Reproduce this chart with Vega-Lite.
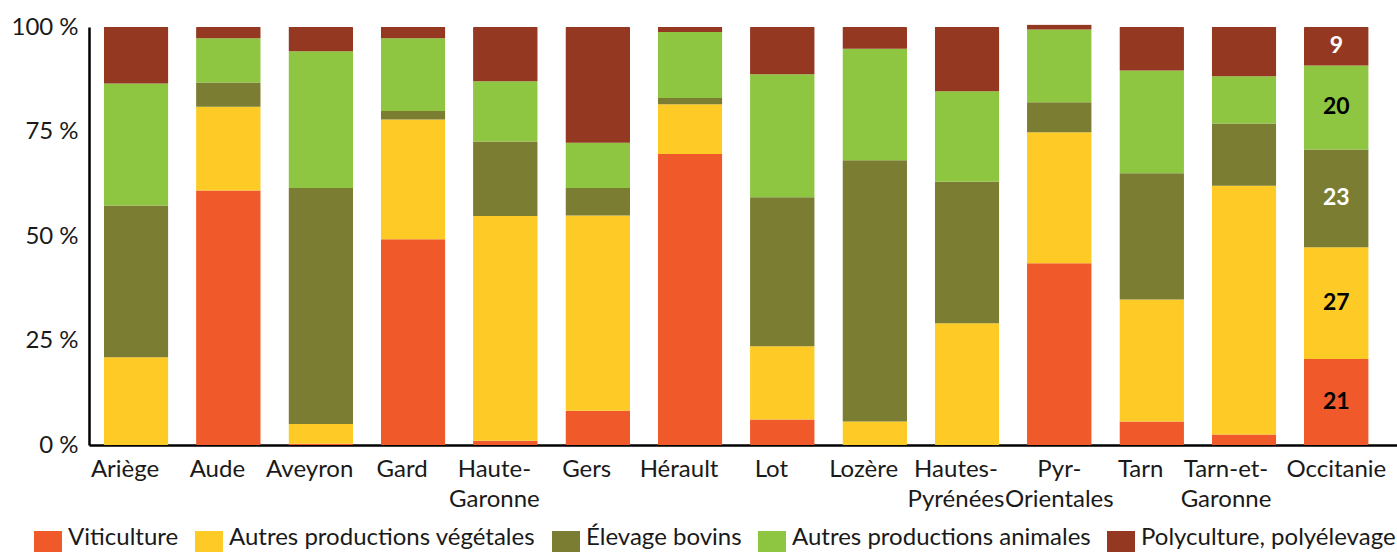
{
  "$schema": "https://vega.github.io/schema/vega-lite/v6.json",
  "width": 1308,
  "height": 418,
  "autosize": {"type": "none"},
  "padding": {"left": 89, "top": 27, "right": 0, "bottom": 107},
  "background": "white",
  "config": {"view": {"stroke": null}, "font": "Lato", "axis": {"grid": false}},
  "data": {"values": [
    {"region": "Ariège", "type": "Viticulture", "k": 1, "value": 0},
    {"region": "Ariège", "type": "Autres productions végétales", "k": 2, "value": 21.0},
    {"region": "Ariège", "type": "Élevage bovins", "k": 3, "value": 36.3},
    {"region": "Ariège", "type": "Autres productions animales", "k": 4, "value": 29.2},
    {"region": "Ariège", "type": "Polyculture, polyélevage", "k": 5, "value": 13.5},
    {"region": "Aude", "type": "Viticulture", "k": 1, "value": 60.9},
    {"region": "Aude", "type": "Autres productions végétales", "k": 2, "value": 20.0},
    {"region": "Aude", "type": "Élevage bovins", "k": 3, "value": 5.8},
    {"region": "Aude", "type": "Autres productions animales", "k": 4, "value": 10.6},
    {"region": "Aude", "type": "Polyculture, polyélevage", "k": 5, "value": 2.7},
    {"region": "Aveyron", "type": "Viticulture", "k": 1, "value": 0.3},
    {"region": "Aveyron", "type": "Autres productions végétales", "k": 2, "value": 4.7},
    {"region": "Aveyron", "type": "Élevage bovins", "k": 3, "value": 56.5},
    {"region": "Aveyron", "type": "Autres productions animales", "k": 4, "value": 32.7},
    {"region": "Aveyron", "type": "Polyculture, polyélevage", "k": 5, "value": 5.8},
    {"region": "Gard", "type": "Viticulture", "k": 1, "value": 49.2},
    {"region": "Gard", "type": "Autres productions végétales", "k": 2, "value": 28.7},
    {"region": "Gard", "type": "Élevage bovins", "k": 3, "value": 2.0},
    {"region": "Gard", "type": "Autres productions animales", "k": 4, "value": 17.4},
    {"region": "Gard", "type": "Polyculture, polyélevage", "k": 5, "value": 2.7},
    {"region": "Haute-Garonne", "type": "Viticulture", "k": 1, "value": 1.0},
    {"region": "Haute-Garonne", "type": "Autres productions végétales", "k": 2, "value": 53.8},
    {"region": "Haute-Garonne", "type": "Élevage bovins", "k": 3, "value": 17.8},
    {"region": "Haute-Garonne", "type": "Autres productions animales", "k": 4, "value": 14.4},
    {"region": "Haute-Garonne", "type": "Polyculture, polyélevage", "k": 5, "value": 13.0},
    {"region": "Gers", "type": "Viticulture", "k": 1, "value": 8.2},
    {"region": "Gers", "type": "Autres productions végétales", "k": 2, "value": 46.7},
    {"region": "Gers", "type": "Élevage bovins", "k": 3, "value": 6.6},
    {"region": "Gers", "type": "Autres productions animales", "k": 4, "value": 10.8},
    {"region": "Gers", "type": "Polyculture, polyélevage", "k": 5, "value": 27.7},
    {"region": "Hérault", "type": "Viticulture", "k": 1, "value": 69.6},
    {"region": "Hérault", "type": "Autres productions végétales", "k": 2, "value": 11.9},
    {"region": "Hérault", "type": "Élevage bovins", "k": 3, "value": 1.5},
    {"region": "Hérault", "type": "Autres productions animales", "k": 4, "value": 15.8},
    {"region": "Hérault", "type": "Polyculture, polyélevage", "k": 5, "value": 1.2},
    {"region": "Lot", "type": "Viticulture", "k": 1, "value": 6.1},
    {"region": "Lot", "type": "Autres productions végétales", "k": 2, "value": 17.5},
    {"region": "Lot", "type": "Élevage bovins", "k": 3, "value": 35.7},
    {"region": "Lot", "type": "Autres productions animales", "k": 4, "value": 29.4},
    {"region": "Lot", "type": "Polyculture, polyélevage", "k": 5, "value": 11.3},
    {"region": "Lozère", "type": "Viticulture", "k": 1, "value": 0},
    {"region": "Lozère", "type": "Autres productions végétales", "k": 2, "value": 5.6},
    {"region": "Lozère", "type": "Élevage bovins", "k": 3, "value": 62.5},
    {"region": "Lozère", "type": "Autres productions animales", "k": 4, "value": 26.7},
    {"region": "Lozère", "type": "Polyculture, polyélevage", "k": 5, "value": 5.2},
    {"region": "Hautes-Pyrénées", "type": "Viticulture", "k": 1, "value": 0},
    {"region": "Hautes-Pyrénées", "type": "Autres productions végétales", "k": 2, "value": 29.1},
    {"region": "Hautes-Pyrénées", "type": "Élevage bovins", "k": 3, "value": 33.9},
    {"region": "Hautes-Pyrénées", "type": "Autres productions animales", "k": 4, "value": 21.6},
    {"region": "Hautes-Pyrénées", "type": "Polyculture, polyélevage", "k": 5, "value": 15.4},
    {"region": "Pyr-Orientales", "type": "Viticulture", "k": 1, "value": 43.5},
    {"region": "Pyr-Orientales", "type": "Autres productions végétales", "k": 2, "value": 31.3},
    {"region": "Pyr-Orientales", "type": "Élevage bovins", "k": 3, "value": 7.2},
    {"region": "Pyr-Orientales", "type": "Autres productions animales", "k": 4, "value": 17.4},
    {"region": "Pyr-Orientales", "type": "Polyculture, polyélevage", "k": 5, "value": 1.2},
    {"region": "Tarn", "type": "Viticulture", "k": 1, "value": 5.6},
    {"region": "Tarn", "type": "Autres productions végétales", "k": 2, "value": 29.2},
    {"region": "Tarn", "type": "Élevage bovins", "k": 3, "value": 30.2},
    {"region": "Tarn", "type": "Autres productions animales", "k": 4, "value": 24.6},
    {"region": "Tarn", "type": "Polyculture, polyélevage", "k": 5, "value": 10.4},
    {"region": "Tarn-et-Garonne", "type": "Viticulture", "k": 1, "value": 2.5},
    {"region": "Tarn-et-Garonne", "type": "Autres productions végétales", "k": 2, "value": 59.5},
    {"region": "Tarn-et-Garonne", "type": "Élevage bovins", "k": 3, "value": 14.9},
    {"region": "Tarn-et-Garonne", "type": "Autres productions animales", "k": 4, "value": 11.3},
    {"region": "Tarn-et-Garonne", "type": "Polyculture, polyélevage", "k": 5, "value": 11.8},
    {"region": "Occitanie", "type": "Viticulture", "k": 1, "value": 20.6},
    {"region": "Occitanie", "type": "Autres productions végétales", "k": 2, "value": 26.7},
    {"region": "Occitanie", "type": "Élevage bovins", "k": 3, "value": 23.4},
    {"region": "Occitanie", "type": "Autres productions animales", "k": 4, "value": 20.1},
    {"region": "Occitanie", "type": "Polyculture, polyélevage", "k": 5, "value": 9.2}
  ]},
  "encoding": {
    "x": {
      "field": "region", "type": "nominal", "sort": null,
      "scale": {"paddingInner": 0.3, "paddingOuter": 0.2335, "align": 0.342},
      "axis": {
        "title": null, "labelAngle": 0, "ticks": false, "domainColor": "black", "domainWidth": 2.5,
        "labelFontSize": 24, "labelPadding": 12, "labelLineHeight": 30, "labelColor": "#1a1a1a",
        "labelOverlap": false, "labelLimit": 300,
        "labelOffset": {
          "condition": [
            {"test": "datum.value == 'Occitanie' || datum.value == 'Pyr-Orientales'", "value": 0},
            {"test": "datum.value == 'Tarn-et-Garonne'", "value": -18}
          ],
          "value": -11
        },
        "labelExpr": "indexof(datum.label, '-') > 0 ? [substring(datum.label, 0, lastindexof(datum.label, '-') + 1), substring(datum.label, lastindexof(datum.label, '-') + 1)] : datum.label"
      }
    }
  },
  "layer": [
    {
      "mark": {"type": "bar", "cornerRadius": 1},
      "encoding": {
        "y": {
          "field": "value", "type": "quantitative", "stack": "zero",
          "scale": {"domain": [0, 100]},
          "axis": {
            "title": null, "values": [0, 25, 50, 75, 100], "ticks": false, "grid": false,
            "domainColor": "black", "domainWidth": 2.5, "labelFontSize": 24, "labelPadding": 11,
            "labelColor": "#1a1a1a", "labelExpr": "datum.value + '\u202f%'"
          }
        },
        "color": {
          "field": "type", "type": "nominal",
          "scale": {
            "domain": ["Viticulture", "Autres productions végétales", "Élevage bovins", "Autres productions animales", "Polyculture, polyélevage"],
            "range": ["#F05A2B", "#FDCA26", "#7A7D32", "#8EC641", "#943821"]
          },
          "legend": {
            "title": null, "orient": "none", "legendX": -55, "legendY": 504, "direction": "horizontal",
            "symbolType": "square", "symbolSize": 784, "symbolStrokeWidth": 0, "symbolOpacity": 1,
            "labelFontSize": 24, "labelOffset": 6, "labelBaseline": "alphabetic", "columnPadding": 16,
            "labelLimit": 400, "labelColor": "#1a1a1a"
          }
        },
        "order": {"field": "k", "type": "quantitative"}
      }
    },
    {
      "transform": [{"filter": "datum.region == 'Occitanie'"}],
      "mark": {"type": "text", "fontSize": 23, "fontWeight": "bold", "baseline": "middle"},
      "encoding": {
        "y": {"field": "value", "type": "quantitative", "stack": "zero", "bandPosition": 0.5},
        "text": {"field": "value", "type": "quantitative", "format": ".0f"},
        "color": {
          "condition": {"test": "datum.type == 'Élevage bovins' || datum.type == 'Polyculture, polyélevage'", "value": "white"},
          "value": "black"
        },
        "order": {"field": "k", "type": "quantitative"}
      }
    }
  ]
}
